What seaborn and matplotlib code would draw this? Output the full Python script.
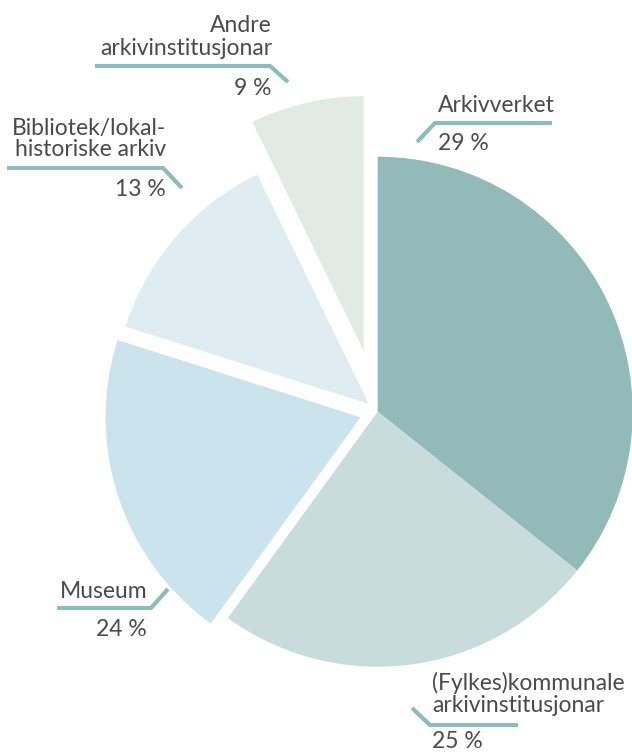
import matplotlib
matplotlib.use("Agg")
import matplotlib.pyplot as plt
import seaborn as sns

# slice order: clockwise from 12 o'clock
categories = ["Arkivverket",
              "(Fylkes)kommunale\narkivinstitusjonar",
              "Museum",
              "Bibliotek/lokal-\nhistoriske arkiv",
              "Andre\narkivinstitusjonar"]
label_pct = [29, 25, 24, 13, 9]
# slice sizes as drawn in the picture (angles do not follow the printed %)
slice_share = [35.7, 24.3, 19.9, 12.9, 7.2]

colors = ["#92BAB9", "#C9DCDC", "#CBE3EC", "#DFECF2", "#E2EBE3"]
line_col = "#8EBCBA"
text_col = "#4A4A4A"

W, H = 632, 753
R = 255
# pie explode is in data units here (pixels), since radius != 1
explode_px = [0, 0, 18, 12, 62]

sns.set_style("white")
plt.rcParams['font.family'] = ['Lato', 'DejaVu Sans']

fig = plt.figure(figsize=(W / 100, H / 100), dpi=100)
ax = fig.add_axes([0, 0, 1, 1])

ax.pie(slice_share, colors=colors, startangle=90, counterclock=False,
       radius=R, center=(377.7, H - 411.7),
       explode=explode_px,
       wedgeprops=dict(linewidth=0))

ax.set_xlim(0, W)
ax.set_ylim(0, H)
ax.set_aspect('equal')
ax.axis('off')


def sy(y):
    return H - y


# label layout in screen pixels: x anchor, alignment, line baselines, pct baseline, leader path
layout = [
    (438, 'left', [111.7], 150, [(417, 142), (435, 123), (552, 123)]),
    (432, 'left', [690, 711.7], 748.5, [(412, 708), (430, 725), (518, 725)]),
    (147, 'right', [598], 636.5, [(57, 608), (151, 608), (168, 589)]),
    (166, 'right', [135, 156], 195.5, [(7, 168), (163, 168), (182, 188)]),
    (272, 'right', [32, 55], 95, [(95, 66), (270, 66), (288, 82)]),
]

for name, pct, (x, ha, lines_y, pct_y, path) in zip(categories, label_pct, layout):
    for txt, y in zip(name.split("\n"), lines_y):
        ax.text(x, sy(y), txt, ha=ha, va='baseline', fontsize=16.5, color=text_col)
    ax.text(x, sy(pct_y), f"{pct} %", ha=ha, va='baseline', fontsize=16.5, color=text_col)
    xs = [p[0] for p in path]
    ys = [sy(p[1]) for p in path]
    ax.plot(xs, ys, color=line_col, lw=3, solid_capstyle='butt', solid_joinstyle='miter')

plt.savefig("out.png", dpi=100)
